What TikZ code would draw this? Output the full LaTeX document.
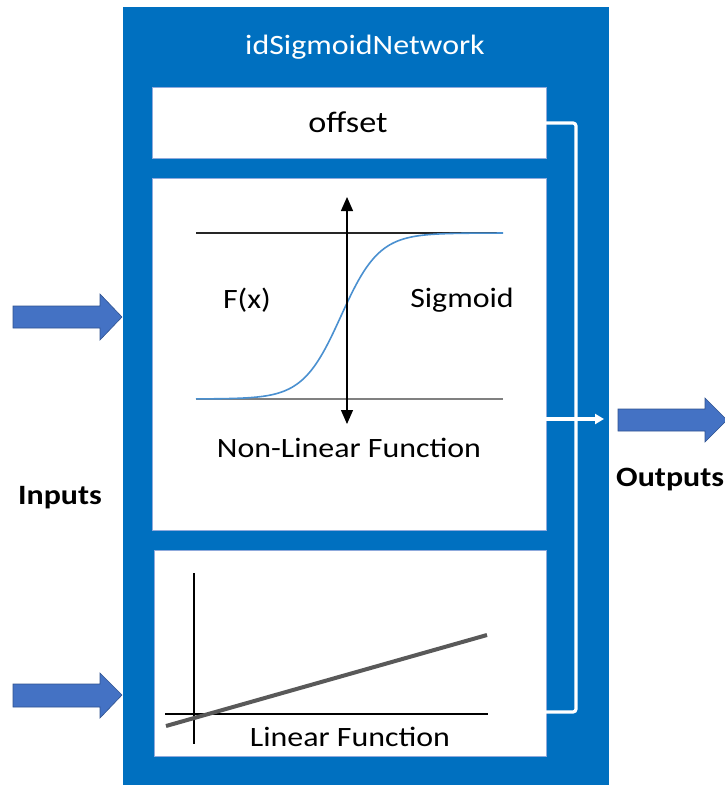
\documentclass[tikz,border=0pt]{standalone}
\usepackage{fontspec}
\setmainfont{Carlito}[FakeStretch=1.14]
\usetikzlibrary{arrows.meta}
\definecolor{netblue}{HTML}{0070C0}
\definecolor{arrowblue}{HTML}{4472C4}
\definecolor{arrowedge}{HTML}{2F528F}
\definecolor{curveblue}{HTML}{4A90D0}
\definecolor{paneledge}{HTML}{8FAADC}
\tikzset{
  panel/.style={draw=paneledge, line width=0.8pt, fill=white},
  lbl/.style={font=\fontsize{28}{32}\selectfont, text=black, inner sep=0pt},
  boldlbl/.style={lbl, font=\fontsize{28}{32}\selectfont\bfseries},
  link/.style={draw=white, line width=3.2pt},
  fatarrow/.style={fill=arrowblue, draw=arrowedge, line width=0.6pt, line join=miter}
}
\begin{document}
\begin{tikzpicture}[x=1pt, y=-1pt]
\useasboundingbox (0,0) rectangle (724,785);

% network container
\fill[netblue] (123,7) rectangle (609,785);
\node[lbl, text=white] (title) at (365,47) {idSigmoidNetwork};

% inner panels
\draw[panel] (152,87) rectangle (546,158);
\draw[panel] (152,178) rectangle (546,530);
\draw[panel] (154,550) rectangle (546,756);
\coordinate (offR) at (546,123);
\coordinate (sigR) at (546,419);
\coordinate (linR) at (546,712);
\node[lbl, font=\fontsize{30}{34}\selectfont] (offset) at (348,122) {offset};

% sigmoid sketch
\coordinate (axT) at (347,197);
\coordinate (axB) at (347,424);
\draw[black!85, line width=1.2pt] (196,233) -- (503,233);
\draw[black!50, line width=2pt] (196,399) -- (503,399);
\draw[curveblue, line width=1.6pt] plot[domain=196:503, samples=120]
  (\x, {399 - 166/(1+exp(-(\x-341)/19))});
\draw[black, line width=1.3pt, {Triangle[width=12pt,length=14pt]}-{Triangle[width=12pt,length=14pt]}] (axT) -- (axB);
\node[lbl] (fx) at (247,300) {F(x)};
\node[lbl] (sig) at (462,300) {Sigmoid};
\node[lbl] (nlf) at (349,448) {Non-Linear Function};

% linear sketch
\draw[black, line width=1.3pt] (194,573) -- (194,744);
\draw[black, line width=1.3pt] (165,714) -- (488,714);
\draw[black!65, line width=4pt] (166,726) -- (487,635);
\node[lbl] (lf) at (350,737) {Linear Function};

% internal links to the output
\draw[link, rounded corners=3pt] (offR) -- (576,123) -- (576,712) -- (linR);
\draw[link, -{Triangle[width=10pt,length=9pt]}] (sigR) -- (604,419);

% input / output block arrows
\draw[fatarrow] (13,306) -- (100,306) -- (100,294) -- (122,317) -- (100,340) -- (100,328) -- (13,328) -- cycle;
\draw[fatarrow] (13,684) -- (100,684) -- (100,673) -- (122,695) -- (100,718) -- (100,707) -- (13,707) -- cycle;
\draw[fatarrow] (618,409) -- (705,409) -- (705,398) -- (727,420) -- (705,442) -- (705,431) -- (618,431) -- cycle;

\node[boldlbl] (inputs) at (60,498) {Inputs};
\node[boldlbl, anchor=west] (outputs) at (616,480) {Outputs};
\end{tikzpicture}
\end{document}
